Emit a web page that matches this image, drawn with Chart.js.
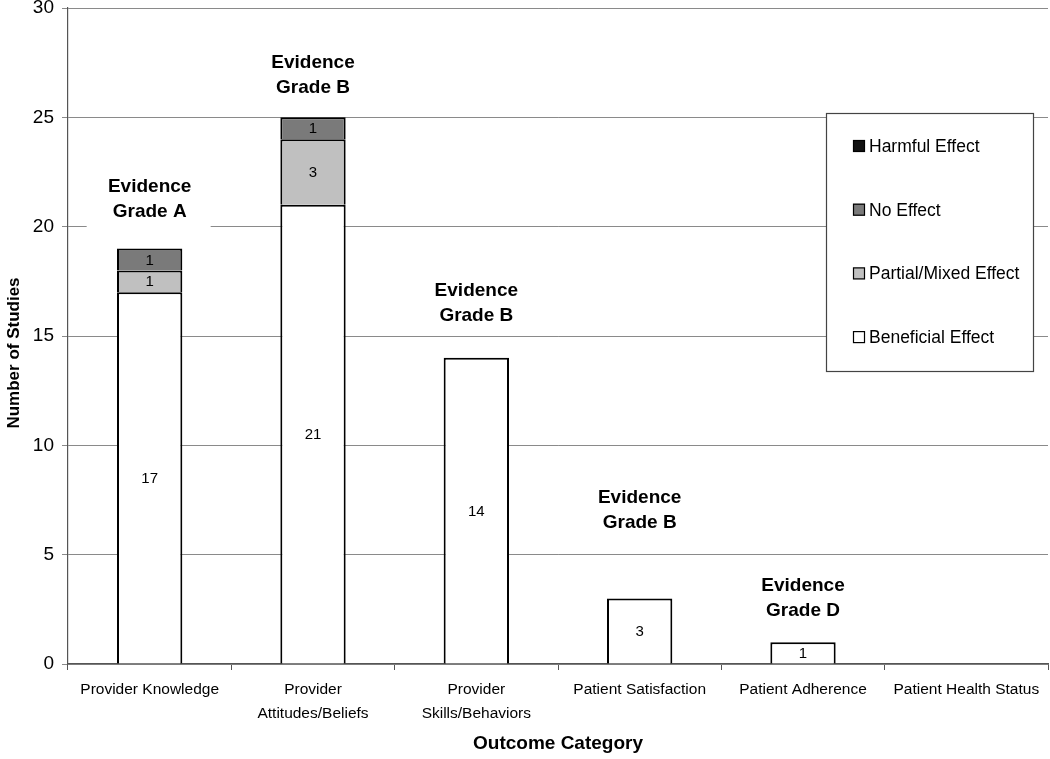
<!DOCTYPE html>
<html>
<head>
<meta charset="utf-8">
<script src="https://cdn.jsdelivr.net/npm/chart.js@4/dist/chart.umd.min.js"></script>
<style>
html,body{margin:0;padding:0;background:#fff;}
#wrap{width:1050px;height:759px;position:relative;}
</style>
</head>
<body>
<div id="wrap"><canvas id="c" width="1050" height="759"></canvas></div>
<script>
const categories = [
  "Provider Knowledge",
  ["Provider", "Attitudes/Beliefs"],
  ["Provider", "Skills/Behaviors"],
  "Patient Satisfaction",
  "Patient Adherence",
  "Patient Health Status"
];
const beneficial = [17, 21, 14, 3, 1, 0];
const partialMixed = [1, 3, 0, 0, 0, 0];
const noEffect = [1, 1, 0, 0, 0, 0];
const harmful = [0, 0, 0, 0, 0, 0];
const gradeLabels = ["Evidence Grade A", "Evidence Grade B", "Evidence Grade B", "Evidence Grade B", "Evidence Grade D", null];
const gradeLabelY = [21.24, 26.93, 16.49, 7.02, 3.0, null];
const yTicks = [0, 5, 10, 15, 20, 25, 30];

const FONT = "'Liberation Sans', Arial, sans-serif";

const annotationPlugin = {
  id: 'annots',
  beforeDatasetsDraw(chart) {
    const ctx = chart.ctx, x = chart.scales.x, y = chart.scales.y;
    ctx.save();
    ctx.fillStyle = '#fff';
    gradeLabels.forEach((t, i) => {
      if (!t) return;
      const cx = x.getPixelForValue(i), cy = y.getPixelForValue(gradeLabelY[i]);
      ctx.fillRect(cx - 63, cy - 31, 124, 62);
    });
    ctx.restore();
  },
  afterDatasetsDraw(chart) {
    const ctx = chart.ctx, x = chart.scales.x, y = chart.scales.y;
    ctx.save();
    ctx.font = "15px " + FONT;
    ctx.fillStyle = '#000';
    ctx.textAlign = 'center';
    ctx.textBaseline = 'middle';
    chart.data.datasets.forEach((ds, di) => {
      const meta = chart.getDatasetMeta(di);
      meta.data.forEach((el, i) => {
        const v = ds.data[i];
        if (!v) return;
        ctx.fillText(String(v), el.x, (el.y + el.base) / 2 + 1);
      });
    });
    ctx.font = "bold 19px " + FONT;
    gradeLabels.forEach((t, i) => {
      if (!t) return;
      const cx = x.getPixelForValue(i), cy = y.getPixelForValue(gradeLabelY[i]);
      const parts = t.split(' ');
      ctx.fillText(parts[0], cx, cy - 12.5);
      ctx.fillText(parts.slice(1).join(' '), cx, cy + 12.5);
    });
    ctx.restore();
  },
  afterDraw(chart) {
    const ctx = chart.ctx, a = chart.chartArea;
    ctx.save();
    // y axis title
    ctx.font = "bold 17px " + FONT;
    ctx.fillStyle = '#000';
    ctx.textAlign = 'center';
    ctx.textBaseline = 'middle';
    ctx.translate(14, (a.top + a.bottom) / 2 + 17);
    ctx.rotate(-Math.PI / 2);
    ctx.fillText('Number of Studies', 0, 0);
    ctx.restore();

    // legend box
    const bx = a.right - 222, by = a.top + 105, bw = 207, bh = 258;
    ctx.save();
    ctx.fillStyle = '#fff';
    ctx.fillRect(bx, by, bw, bh);
    ctx.strokeStyle = '#444';
    ctx.lineWidth = 1.2;
    ctx.strokeRect(bx + 0.5, by + 0.5, bw, bh);
    const order = [3, 2, 1, 0];
    ctx.font = "17.5px " + FONT;
    ctx.textBaseline = 'middle';
    ctx.textAlign = 'left';
    order.forEach((di, k) => {
      const ds = chart.data.datasets[di];
      const iy = by + 33 + k * 63.7;
      ctx.fillStyle = ds.backgroundColor;
      ctx.fillRect(bx + 27, iy - 6, 12, 12);
      ctx.strokeStyle = '#000';
      ctx.lineWidth = 1.2;
      ctx.strokeRect(bx + 27.5, iy - 5.5, 11, 11);
      ctx.fillStyle = '#000';
      ctx.fillText(ds.label, bx + 43, iy + 1);
    });
    ctx.restore();
  }
};

new Chart(document.getElementById('c'), {
  type: 'bar',
  data: {
    labels: categories,
    datasets: [
      { label: 'Beneficial Effect', data: beneficial, backgroundColor: '#ffffff' },
      { label: 'Partial/Mixed Effect', data: partialMixed, backgroundColor: '#c0c0c0' },
      { label: 'No Effect', data: noEffect, backgroundColor: '#7a7a7a' },
      { label: 'Harmful Effect', data: harmful, backgroundColor: '#111111' }
    ]
  },
  options: {
    responsive: false,
    animation: false,
    devicePixelRatio: 1,
    layout: { padding: { top: 8, right: 2, left: 0, bottom: 0 } },
    datasets: {
      bar: {
        borderColor: '#000',
        borderWidth: 2,
        categoryPercentage: 1,
        barPercentage: 0.4
      }
    },
    plugins: {
      legend: { display: false },
      tooltip: { enabled: false }
    },
    scales: {
      x: {
        stacked: true,
        grid: { display: true, drawOnChartArea: false, offset: true, tickLength: 6, color: '#555' },
        border: { color: '#555', width: 1.2 },
        ticks: { font: { family: FONT, size: 15.5, lineHeight: 1.55 }, color: '#000', padding: 8, maxRotation: 0, autoSkip: false },
        title: { display: true, text: 'Outcome Category', font: { family: FONT, size: 19, weight: 'bold' }, color: '#000', padding: { top: 0, bottom: 4 } },
        afterFit(s) { s.height = 95; s.paddingLeft = 0; s.paddingRight = 0; }
      },
      y: {
        stacked: true,
        min: 0, max: 30,
        afterBuildTicks(s) { s.ticks = yTicks.map(v => ({ value: v })); },
        grid: { color: '#8a8a8a', tickLength: 6, lineWidth: 1 },
        border: { color: '#555', width: 1.2 },
        ticks: { font: { family: FONT, size: 19 }, color: '#000', padding: 8 },
        title: { display: false },
        afterFit(s) { s.width = 68; s.paddingTop = 0; s.paddingBottom = 0; }
      }
    }
  },
  plugins: [annotationPlugin]
});
</script>
</body>
</html>
